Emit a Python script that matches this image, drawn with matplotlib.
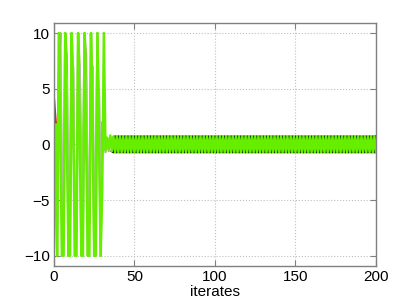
"""
Iterates of several trajectories: large clipped swings that settle into a period-2 band.
"""

import matplotlib.pyplot as plt
import numpy as np


# early iterates (t = 0 .. 36)
GREEN_EARLY = [2, -10, -10, 10, 0, -10, -10, 10, 1, -10, -10, 10, 2, -10, -10, 10,
               1, -10, -10, 10, 0, -10, -10, 10, 2, -10, -10, 10, 0, -10, -4, 10,
               -0.5, 0.6, -0.4, 0.8, -0.6]
OLIVE_EARLY = [3, -4, -10, 6, 10, -10, -6, 10, 8, -10, -4, 10, 6, -10, -8, 10,
               7, -10, -3, 10, 8, -10, -6, 10, 4, -10, -2, 10, 3, -10, 2, 2,
               -0.7, 0.4, -0.6, 0.7, -0.5]
GRAY_EARLY = [1, -3, -7, 2, 7, -2, -7, 4, 6, -5, -7, 1, 7, -6, -6, 5,
              7, -1, -7, 6, 6, -4, -7, 3, 7, -7, -6, 4, 5, -3, -1, 1,
              -0.4, 0.5, -0.5, 0.6, -0.4]
RED_START = [4, 2]
BLACK_START = 36

# period-2 band after the transient
BAND_HIGH = 0.7
BAND_LOW = -0.7
N_ITER = 200

X_TICKS = [0, 50, 100, 150, 200]
Y_TICKS = [-10, -5, 0, 5, 10]


def with_tail(early, first_high):
    n_tail = N_ITER + 1 - len(early)
    pair = [BAND_HIGH, BAND_LOW] if first_high else [BAND_LOW, BAND_HIGH]
    tail = (pair * (n_tail // 2 + 1))[:n_tail]
    return np.array(early + tail, dtype=float)


def main():
    plt.rcParams["font.family"] = ["Liberation Sans", "DejaVu Sans"]

    fig = plt.figure(figsize=(4.15, 3.03), dpi=100)
    ax = fig.add_axes([0.13, 0.123, 0.776, 0.801])

    t = np.arange(N_ITER + 1)

    ax.plot(t, with_tail(OLIVE_EARLY, True), color="#88cc40", lw=1.6)
    ax.plot(t, with_tail(GRAY_EARLY, True), color="#b4bca8", lw=1.6)

    black = with_tail(GREEN_EARLY, False)
    black[:BLACK_START] = np.nan
    ax.plot(t, black, color="#111111", lw=1.8)

    green = with_tail(GREEN_EARLY, True)
    green[1] = 2
    ax.plot(t, green, color="#66ee00", lw=1.8)
    ax.plot(t[:2], RED_START, color="#d42020", lw=1.8)

    ax.set_xlim(0, 200)
    ax.set_ylim(-10.9, 10.9)
    ax.set_xticks(X_TICKS)
    ax.set_yticks(Y_TICKS)
    ax.set_yticklabels(["\u221210", "\u22125", "0", "5", "10"])
    ax.set_xlabel("iterates", fontsize=11, labelpad=1)

    ax.grid(True, linestyle=":", color="#c0c0c0", linewidth=0.8)
    ax.tick_params(direction="in", length=4, labelsize=11, color="#808080",
                   top=True, right=True, pad=3)
    for spine in ax.spines.values():
        spine.set_color("#808080")
        spine.set_linewidth(1.0)

    fig.savefig("out.png", dpi=100)


if __name__ == "__main__":
    main()
